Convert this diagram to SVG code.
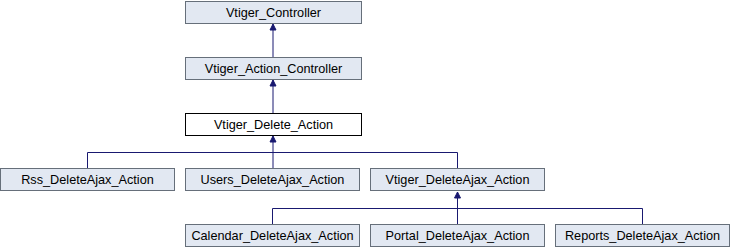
<svg xmlns="http://www.w3.org/2000/svg" width="730" height="248" viewBox="0 0 730 248">
  <style>
    .box { fill: #e2e8f2; stroke: #666f7a; stroke-width: 1; }
    .cur { fill: #ffffff; stroke: #000000; stroke-width: 1; }
    .lbl { font-family: "Liberation Sans", Arial, sans-serif; font-size: 12.7px; fill: #000000; text-anchor: middle; }
    .edge { fill: none; stroke: #191970; stroke-width: 1; }
    .head { fill: #191970; stroke: #191970; stroke-width: 1; }
  </style>
  <rect width="730" height="248" fill="#ffffff"/>

  <!-- inheritance edges: arrowheads point at the base class -->
  <g id="connectors">
    <path class="edge" d="M273,57 V24"/>
    <path class="head" d="M273,24 L270,30 L276,30 Z"/>
    <path class="edge" d="M273,113 V80"/>
    <path class="head" d="M273,80 L270,86 L276,86 Z"/>
    <path class="edge" d="M87.5,168 V152.5 H457.5 V168"/>
    <path class="edge" d="M273,168 V136"/>
    <path class="head" d="M273,136 L270,142 L276,142 Z"/>
    <path class="edge" d="M272.5,224 V208.5 H642.5 V224"/>
    <path class="edge" d="M457.5,224 V192"/>
    <path class="head" d="M457.5,192 L454.5,198 L460.5,198 Z"/>
  </g>

  <g id="Vtiger_Controller">
    <rect class="box" x="185.5" y="1.5" width="176" height="22"/>
    <text class="lbl" x="273.5" y="16.5">Vtiger_Controller</text>
  </g>
  <g id="Vtiger_Action_Controller">
    <rect class="box" x="185.5" y="57.5" width="176" height="22"/>
    <text class="lbl" x="273.5" y="72.5">Vtiger_Action_Controller</text>
  </g>
  <g id="Vtiger_Delete_Action">
    <rect class="cur" x="185.5" y="113.5" width="176" height="22"/>
    <text class="lbl" x="273.5" y="128.5">Vtiger_Delete_Action</text>
  </g>
  <g id="Rss_DeleteAjax_Action">
    <rect class="box" x="0.5" y="168.5" width="174" height="22"/>
    <text class="lbl" x="87.5" y="183.5">Rss_DeleteAjax_Action</text>
  </g>
  <g id="Users_DeleteAjax_Action">
    <rect class="box" x="185.5" y="168.5" width="174" height="22"/>
    <text class="lbl" x="272.5" y="183.5">Users_DeleteAjax_Action</text>
  </g>
  <g id="Vtiger_DeleteAjax_Action">
    <rect class="box" x="370.5" y="168.5" width="174" height="22"/>
    <text class="lbl" x="457.5" y="183.5">Vtiger_DeleteAjax_Action</text>
  </g>
  <g id="Calendar_DeleteAjax_Action">
    <rect class="box" x="185.5" y="224.5" width="174" height="22"/>
    <text class="lbl" x="272.5" y="239.5">Calendar_DeleteAjax_Action</text>
  </g>
  <g id="Portal_DeleteAjax_Action">
    <rect class="box" x="370.5" y="224.5" width="174" height="22"/>
    <text class="lbl" x="457.5" y="239.5">Portal_DeleteAjax_Action</text>
  </g>
  <g id="Reports_DeleteAjax_Action">
    <rect class="box" x="555.5" y="224.5" width="174" height="22"/>
    <text class="lbl" x="642.5" y="239.5">Reports_DeleteAjax_Action</text>
  </g>
</svg>
